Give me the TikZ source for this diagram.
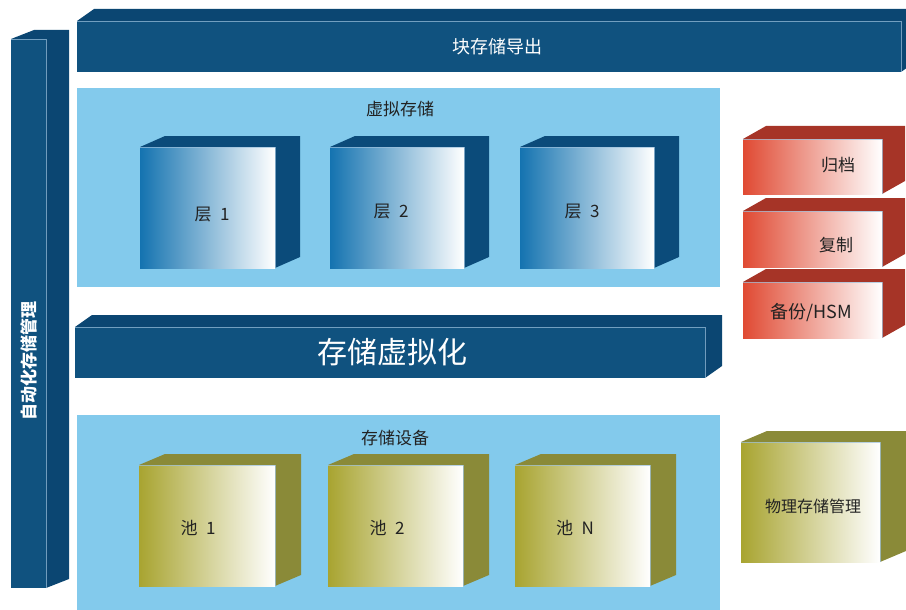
\documentclass[tikz,border=0pt]{standalone}
\usepackage{fontspec}
\setmainfont{Noto Sans CJK SC}
\newfontfamily\cjk{Noto Sans CJK SC}
\definecolor{barfront}{HTML}{10527F}
\definecolor{barside}{HTML}{0B4672}
\definecolor{baredge}{HTML}{5B98C6}
\definecolor{panel}{HTML}{83CAEC}
\definecolor{cubeblue}{HTML}{1473B0}
\definecolor{cubeside}{HTML}{0B4B7A}
\definecolor{redfront}{HTML}{E04A33}
\definecolor{redside}{HTML}{A63427}
\definecolor{olivefront}{HTML}{A8A430}
\definecolor{oliveside}{HTML}{8A8A38}
\definecolor{txt}{HTML}{222222}
\newcommand\mycuboid[8]{%
  \fill[#7] (#1,#2) -- (#1+#5,#2-#6) -- (#3+#5,#2-#6) -- (#3+#5,#4-#6) -- (#3,#4) -- (#3,#2) -- cycle;
  \fill[#8] (#1,#2) rectangle (#3,#4);
  \draw[baredge!60!white,line width=0.5pt,opacity=0.7] (#1,#2) -- (#3,#2) -- (#3,#4);
}
\tikzset{
  lbl/.style={text=txt,font=\cjk\fontsize{17}{20}\selectfont,inner sep=0pt},
  wlbl/.style={text=white,font=\cjk\fontsize{18}{22}\selectfont,inner sep=0pt},
  bluecube/.style={left color=cubeblue,right color=white,shading angle=90},
  redbox/.style={left color=redfront,right color=white},
  olivecube/.style={left color=olivefront,right color=white}
}
\begin{document}
\begin{tikzpicture}[x=1pt,y=-1pt]
\useasboundingbox (0,0) rectangle (906,610);
\clip (0,0) rectangle (906,610);
% left vertical bar
\mycuboid{11}{39}{46}{588}{23}{9}{barside}{barfront}
\node[wlbl,font=\cjk\bfseries\fontsize{17}{20}\selectfont,rotate=90] (auto) at (29,361) {自动化存储管理};
% top bar
\mycuboid{77}{21}{901}{72}{17}{12}{barside}{barfront}
\node[wlbl] (export) at (497,47) {块存储导出};
% virtual storage panel
\fill[panel] (77,88) rectangle (720,287);
\node[lbl] (virt) at (400,109) {虚拟存储};
\mycuboid{140}{147}{275}{268}{25}{11}{cubeside}{bluecube}
\mycuboid{330}{147}{464}{268}{25}{11}{cubeside}{bluecube}
\mycuboid{520}{147}{654}{268}{25}{11}{cubeside}{bluecube}
\node[lbl] (t1) at (212,215) {层\,\,\,1};
\node[lbl] (t2) at (391,212) {层\,\,\,2};
\node[lbl] (t3) at (582,212) {层\,\,\,3};
% storage virtualization bar
\mycuboid{75}{327}{705}{378}{17}{12}{barside}{barfront}
\node[wlbl,font=\cjk\fontsize{30}{34}\selectfont] (sv) at (392,352) {存储虚拟化};
% storage devices panel
\fill[panel] (77,415) rectangle (720,610);
\node[lbl] (dev) at (395,438) {存储设备};
\mycuboid{139}{465}{275}{586}{26}{11}{oliveside}{olivecube}
\mycuboid{328}{465}{463}{586}{26}{11}{oliveside}{olivecube}
\mycuboid{515}{465}{650}{586}{26}{11}{oliveside}{olivecube}
\node[lbl] (p1) at (198,528) {池\,\,\,1};
\node[lbl] (p2) at (387,528) {池\,\,\,2};
\node[lbl] (pn) at (575,528) {池\,\,\,N};
% red boxes
\mycuboid{743}{139}{882}{194}{23}{13}{redside}{redbox}
\mycuboid{743}{211}{882}{267}{23}{13}{redside}{redbox}
\mycuboid{743}{282}{882}{338}{23}{13}{redside}{redbox}
\node[lbl] (arch) at (838,165) {归档};
\node[lbl] (copy) at (836,245) {复制};
\node[lbl,font=\cjk\fontsize{18}{22}\selectfont] (bak) at (811,313) {备份/HSM};
% olive box
\mycuboid{741}{442}{880}{562}{26}{11}{oliveside}{olivecube}
\node[lbl,font=\cjk\fontsize{16}{20}\selectfont] (phys) at (813,506) {物理存储管理};
\end{tikzpicture}
\end{document}
